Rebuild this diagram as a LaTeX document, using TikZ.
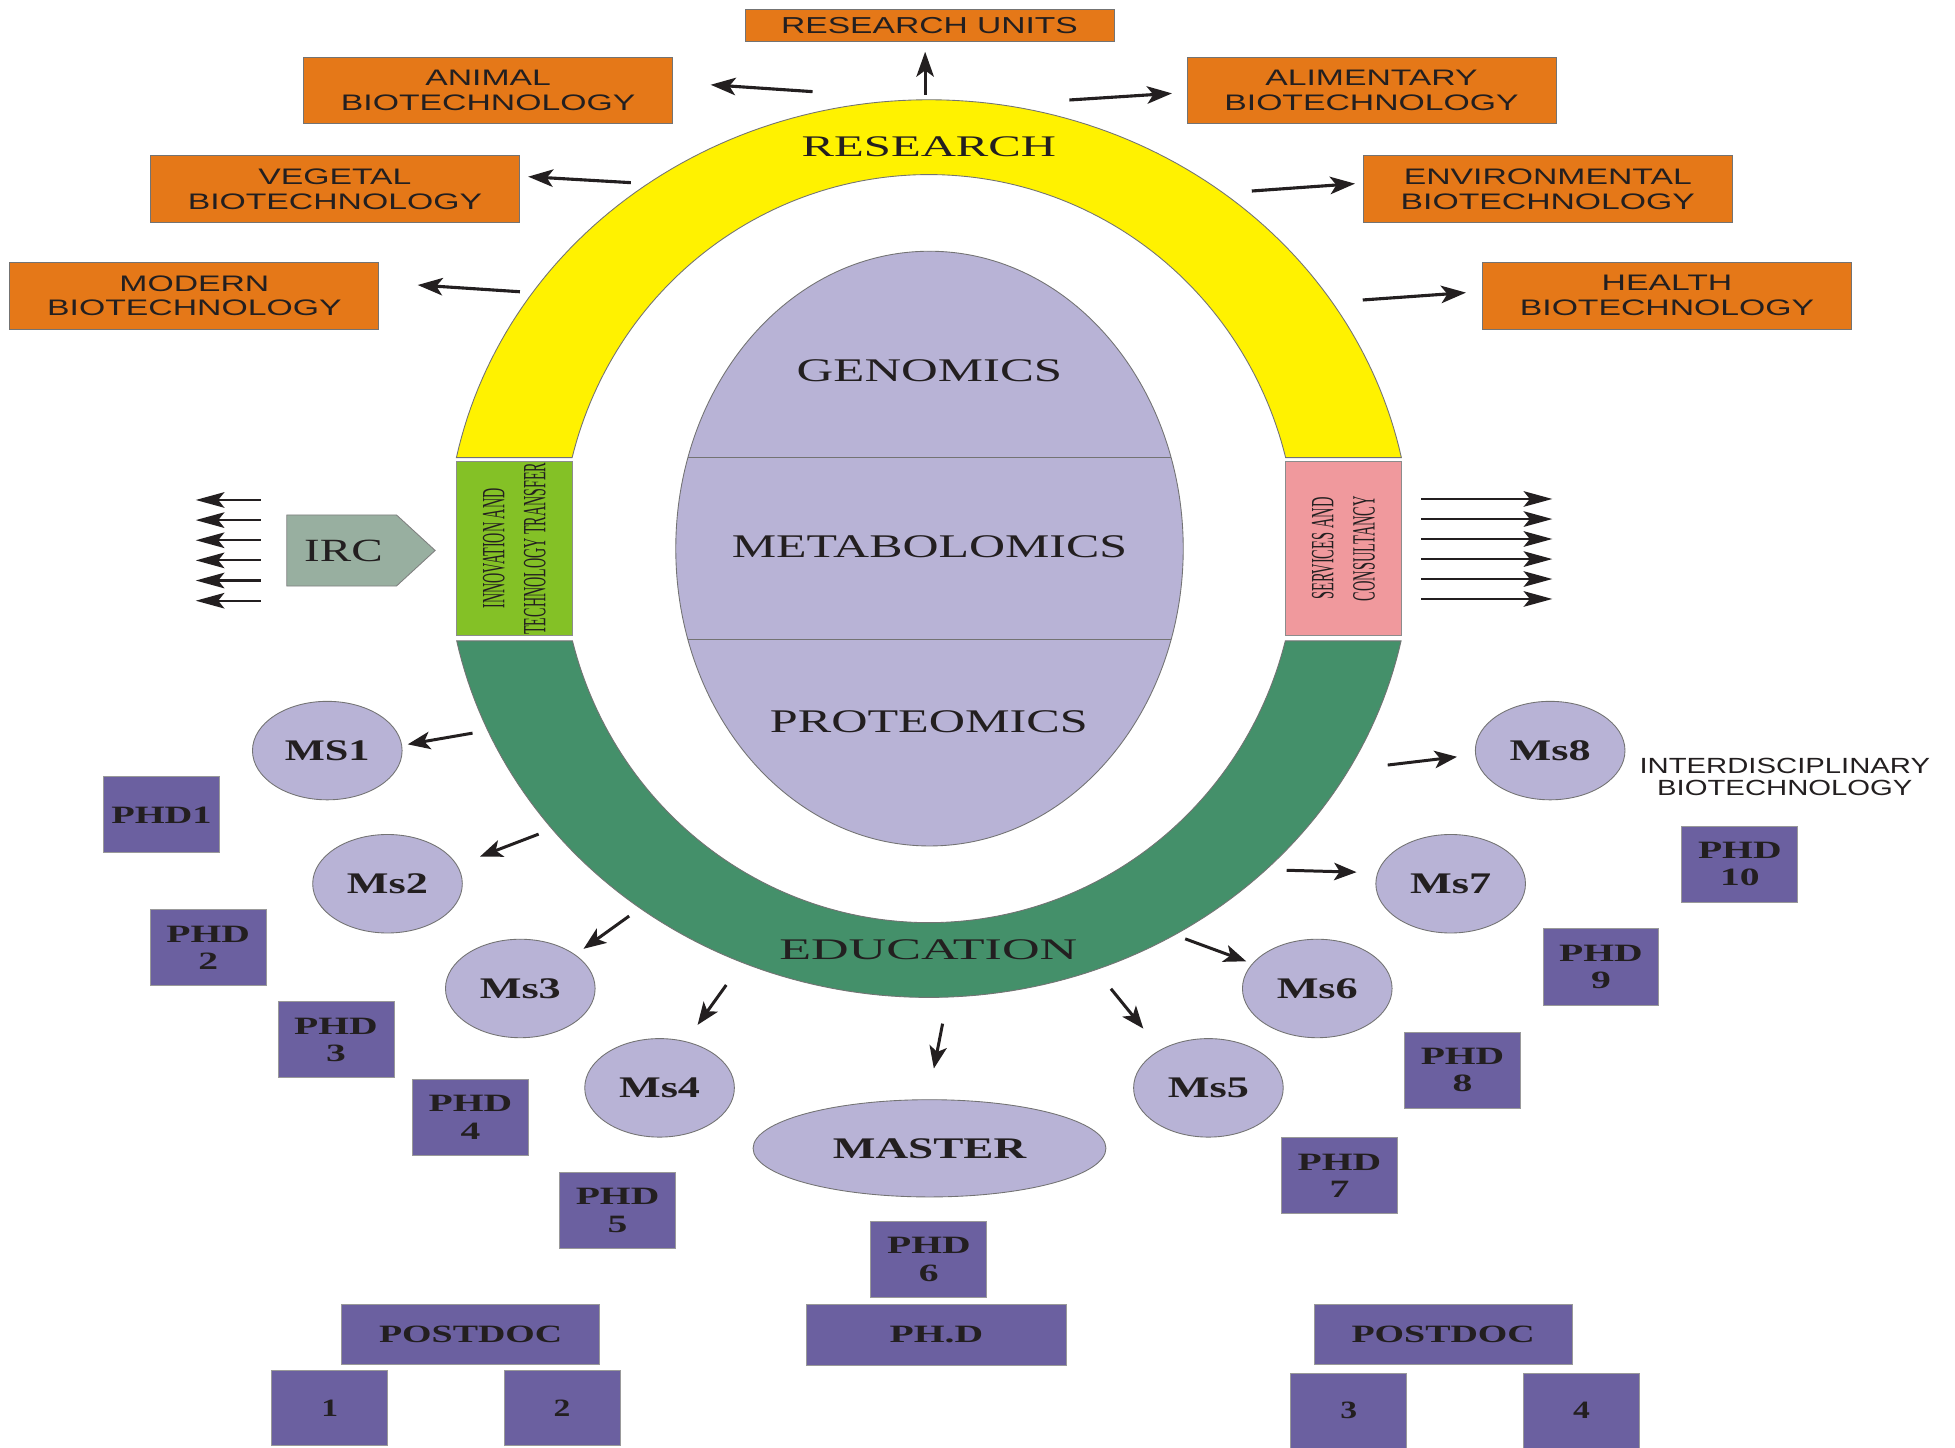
\documentclass[tikz,border=0pt]{standalone}
\usepackage{fontspec}
\setmainfont{Liberation Serif}
\newfontfamily\lsans{Liberation Sans}
\usepackage{graphicx}
\usetikzlibrary{shapes.geometric,arrows.meta}

\definecolor{orng}{RGB}{229,120,24}
\definecolor{ylw}{RGB}{255,242,0}
\definecolor{dgrn}{RGB}{68,144,106}
\definecolor{lav}{RGB}{184,179,214}
\definecolor{purp}{RGB}{107,96,160}
\definecolor{lgrn}{RGB}{132,193,38}
\definecolor{pnk}{RGB}{240,153,157}
\definecolor{ircc}{RGB}{152,175,160}
\definecolor{ink}{RGB}{35,31,32}

\newcommand{\stk}[1]{\vbox{\halign{\hfil##\hfil\cr#1\crcr}}}
\newcommand{\fitw}[2]{\resizebox{#1pt}{\height}{#2}}

\tikzset{
  obox/.style={draw=black!55, line width=0.7pt, fill=orng, minimum width=296pt, minimum height=53.5pt, inner sep=0pt, text=ink, font=\lsans\fontsize{18}{20}\selectfont},
  pbox/.style={draw=black!40, line width=0.7pt, fill=purp, minimum width=93pt, minimum height=61pt, inner sep=0pt, text=ink, font=\bfseries\fontsize{20}{22}\selectfont},
  wbox/.style={pbox, minimum width=207pt, minimum height=48pt},
  msell/.style={ellipse, draw=black!55, line width=0.7pt, fill=lav, minimum width=120pt, minimum height=79pt, inner sep=0pt, text=ink, font=\bfseries\fontsize{24}{26}\selectfont},
  arr/.style={-{Stealth[length=20pt,width=14pt,inset=5pt]}, line width=2.5pt, draw=ink},
  barr/.style={-{Stealth[length=18pt,width=14pt,inset=4.5pt]}, line width=2.4pt, draw=ink},
  sarr/.style={-{Stealth[length=23pt,width=12.5pt,inset=5pt]}, line width=1.7pt, draw=ink},
  ringline/.style={draw=black!55, line width=0.7pt},
  lbl/.style={text=ink, inner sep=0pt},
  sidebox/.style={draw=black!45, line width=0.7pt, minimum width=93pt, minimum height=140pt, inner sep=0pt},
}

\begin{document}
\begin{tikzpicture}[x=1pt,y=-1pt]
\useasboundingbox (0,0) rectangle (1568,1161);
\fill[white] (0,0) rectangle (1568,1161);

% ---- ring ----
\filldraw[fill=ylw, ringline] plot[domain=191.7:348.3, samples=120] ({745+387*cos(\x)},{440+360*sin(\x)})
  -- plot[domain=345.92:194.08, samples=120] ({745+295*cos(\x)},{440+300*sin(\x)}) -- cycle;
\filldraw[fill=dgrn, ringline] plot[domain=168.14:11.86, samples=120] ({745+387*cos(\x)},{440+360*sin(\x)})
  -- plot[domain=14.28:165.72, samples=120] ({745+295*cos(\x)},{440+300*sin(\x)}) -- cycle;

\node[sidebox, fill=lgrn] (itt) at (412.5,440) {};
\node[sidebox, fill=pnk] (serv) at (1077.5,440) {};
\node[lbl, rotate=90, font=\fontsize{26}{33}\selectfont] (itttxt) at (itt) {\fitw{138}{\stk{INNOVATION AND\cr TECHNOLOGY TRANSFER}}};
\node[lbl, rotate=90, font=\fontsize{26}{33}\selectfont] (servtxt) at (serv) {\fitw{84.5}{\stk{SERVICES AND\cr CONSULTANCY}}};

% ---- central ellipse ----
\filldraw[fill=lav, ringline] (745.5,440) ellipse [x radius=203.5pt, y radius=238.5pt];
\draw[ringline] (551.8,367) -- (939.2,367);
\draw[ringline] (551.8,513) -- (939.2,513);

\node[lbl, font=\fontsize{24}{26}\selectfont] (research) at (745,117.4) {\fitw{204}{RESEARCH}};
\node[lbl, font=\fontsize{24}{26}\selectfont] (education) at (744.5,762) {\fitw{239}{EDUCATION}};
\node[lbl, font=\fontsize{26.5}{28}\selectfont] (genomics) at (745.5,297.5) {\fitw{213}{GENOMICS}};
\node[lbl, font=\fontsize{26.5}{28}\selectfont] (metab) at (745.5,438.7) {\fitw{317}{METABOLOMICS}};
\node[lbl, font=\fontsize{26.5}{28}\selectfont] (proteo) at (745,578.5) {\fitw{255}{PROTEOMICS}};

% ---- IRC ----
\filldraw[fill=ircc, draw=black!50, line width=0.7pt] (230,413) -- (318,413) -- (349,441.5) -- (318,470) -- (230,470) -- cycle;
\node[lbl, font=\fontsize{26}{28}\selectfont] (irc) at (275.5,441.8) {\fitw{63}{IRC}};
\foreach \k [count=\i] in {401,417.15,433.3,449.45,465.6,481.8}{
  \draw[sarr] (209,\k) coordinate (ircs\i) -- (157,\k) coordinate (irce\i);
}
\foreach \k [count=\i] in {400.2,416.3,432.3,448.4,464.4,480.4}{
  \draw[sarr] (1140,\k) coordinate (scs\i) -- (1245,\k) coordinate (sce\i);
}

% ---- orange boxes ----
\node[obox, minimum height=25.5pt, font=\lsans\fontsize{18.5}{20}\selectfont] (ru) at (745.5,20.2) {\fitw{238}{RESEARCH UNITS}};
\node[obox] (animal) at (391.5,72.5) {\fitw{236}{\stk{ANIMAL\cr BIOTECHNOLOGY}}};
\node[obox] (vegetal) at (268.6,151.8) {\fitw{236}{\stk{VEGETAL\cr BIOTECHNOLOGY}}};
\node[obox] (modern) at (155.9,237.2) {\fitw{236}{\stk{MODERN\cr BIOTECHNOLOGY}}};
\node[obox] (alim) at (1100,72.5) {\fitw{236}{\stk{ALIMENTARY\cr BIOTECHNOLOGY}}};
\node[obox] (env) at (1241.4,151.8) {\fitw{236}{\stk{ENVIRONMENTAL\cr BIOTECHNOLOGY}}};
\node[obox] (health) at (1337,237.2) {\fitw{236}{\stk{HEALTH\cr BIOTECHNOLOGY}}};

\draw[arr] (742,76) coordinate (ups) -- (742,41.5) coordinate (upe);
\draw[arr] (651.7,73.5) coordinate (ans) -- (570,68) coordinate (ane);
\draw[arr] (506,146.5) coordinate (vgs) -- (423.6,141.7) coordinate (vge);
\draw[arr] (417,234) coordinate (mds) -- (335,228.6) coordinate (mde);
\draw[arr] (857.7,80.2) coordinate (als) -- (940,74.9) coordinate (ale);
\draw[arr] (1004,153.2) coordinate (evs) -- (1086.8,147.3) coordinate (eve);
\draw[arr] (1093,240.6) coordinate (hls) -- (1175.8,234.7) coordinate (hle);

% ---- Ms ellipses ----
\node[msell] (ms1) at (262.5,602) {\fitw{68}{MS1}};
\node[msell] (ms2) at (310.8,708.8) {\fitw{65}{Ms2}};
\node[msell] (ms3) at (417.3,792.8) {\fitw{65}{Ms3}};
\node[msell] (ms4) at (529,872.5) {\fitw{65}{Ms4}};
\node[msell] (ms5) at (969.2,872.5) {\fitw{65}{Ms5}};
\node[msell] (ms6) at (1056.5,792.8) {\fitw{65}{Ms6}};
\node[msell] (ms7) at (1163.5,708.8) {\fitw{65}{Ms7}};
\node[msell] (ms8) at (1243.3,602) {\fitw{65}{Ms8}};
\node[msell, minimum width=283pt, minimum height=78pt] (master) at (745.5,921) {\raisebox{-2.5pt}{\fitw{155}{MASTER}}};

\draw[barr] (379,588) coordinate (m1s) -- (327,597) coordinate (m1e);
\draw[barr] (432,669) coordinate (m2s) -- (385,687) coordinate (m2e);
\draw[barr] (504.6,734.7) coordinate (m3s) -- (468,761) coordinate (m3e);
\draw[barr] (582.5,790) coordinate (m4s) -- (559.5,822) coordinate (m4e);
\draw[barr] (756,821) coordinate (mas) -- (749,857) coordinate (mae);
\draw[barr] (891,793) coordinate (m5s) -- (917,825) coordinate (m5e);
\draw[barr] (950.6,753) coordinate (m6s) -- (999.5,771) coordinate (m6e);
\draw[barr] (1032,698) coordinate (m7s) -- (1088,699.5) coordinate (m7e);
\draw[barr] (1113,613.6) coordinate (m8s) -- (1168.6,607) coordinate (m8e);

\node[lbl, font=\lsans\fontsize{17.6}{17}\selectfont] (interd) at (1431.5,623.2) {\fitw{233}{\stk{INTERDISCIPLINARY\cr BIOTECHNOLOGY}}};

% ---- PhD boxes ----
\node[pbox] (phd1) at (129.5,653.5) {\fitw{80.5}{PHD1}};
\node[pbox] (phd2) at (167,760) {\fitw{67}{\stk{PHD\cr 2}}};
\node[pbox] (phd3) at (269.5,834) {\fitw{67}{\stk{PHD\cr 3}}};
\node[pbox] (phd4) at (377.3,896) {\fitw{67}{\stk{PHD\cr 4}}};
\node[pbox] (phd5) at (495.3,970.8) {\fitw{67}{\stk{PHD\cr 5}}};
\node[pbox] (phd6) at (745,1010) {\fitw{67}{\stk{PHD\cr 6}}};
\node[pbox] (phd7) at (1074.3,943) {\fitw{67}{\stk{PHD\cr 7}}};
\node[pbox] (phd8) at (1173,858.3) {\fitw{67}{\stk{PHD\cr 8}}};
\node[pbox] (phd9) at (1284,775.5) {\fitw{67}{\stk{PHD\cr 9}}};
\node[pbox] (phd10) at (1395.4,693) {\fitw{67}{\stk{PHD\cr 10}}};

\node[wbox, minimum width=208pt, minimum height=49pt] (phd) at (751,1070.5) {\fitw{75}{PH.D}};
\node[wbox] (pdl) at (377.5,1070.3) {\fitw{147}{POSTDOC}};
\node[wbox] (pdr) at (1157.5,1070.3) {\fitw{147}{POSTDOC}};

\node[pbox, minimum height=60pt] (n1) at (264.5,1129.5) {\scalebox{1.35}[1]{1}};
\node[pbox, minimum height=60pt] (n2) at (450.8,1129.5) {\scalebox{1.35}[1]{2}};
\node[pbox, minimum height=60pt] (n3) at (1081.8,1131.5) {\scalebox{1.35}[1]{3}};
\node[pbox, minimum height=60pt] (n4) at (1268.5,1131.5) {\scalebox{1.35}[1]{4}};
\end{tikzpicture}
\end{document}
